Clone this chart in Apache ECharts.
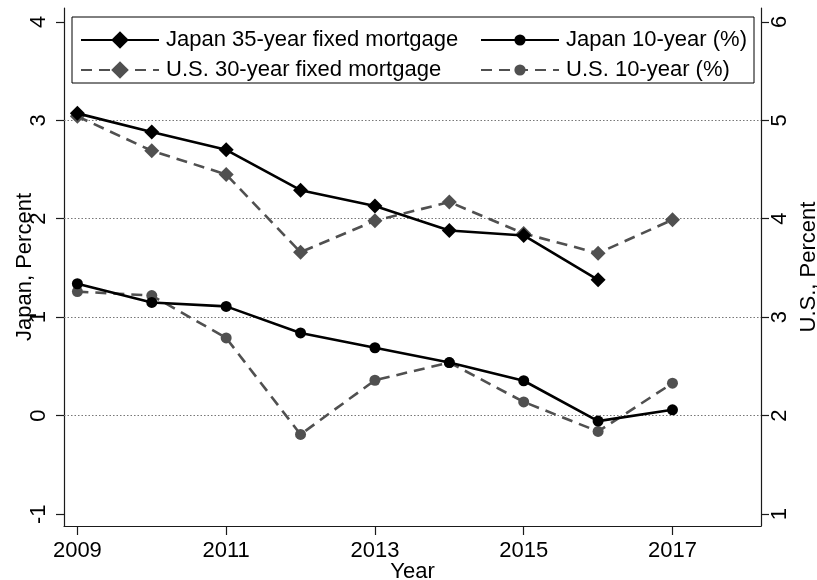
<!DOCTYPE html>
<html>
<head>
<meta charset="utf-8">
<script src="https://cdn.jsdelivr.net/npm/echarts@6/dist/echarts.min.js"></script>
<style>
  html, body { margin: 0; padding: 0; background: #fff; }
  #chart { width: 817px; height: 580px; }
</style>
</head>
<body>
<div id="chart"></div>
<script>
// Interest rates, 2009-2017
const years = [2009, 2010, 2011, 2012, 2013, 2014, 2015, 2016, 2017];
const japanMortgage35 = [3.07, 2.88, 2.70, 2.29, 2.13, 1.88, 1.83, 1.38, null];
const japan10y = [1.34, 1.15, 1.11, 0.84, 0.69, 0.54, 0.355, -0.055, 0.06];
const usMortgage30 = [5.04, 4.69, 4.45, 3.66, 3.98, 4.17, 3.85, 3.65, 3.99];
const us10y = [3.26, 3.22, 2.79, 1.81, 2.36, 2.54, 2.14, 1.84, 2.33];

const xTickYears = [2009, 2011, 2013, 2015, 2017];
const leftTicks = [-1, 0, 1, 2, 3, 4];
const rightTicks = [1, 2, 3, 4, 5, 6];
const gridValues = [0, 1, 2, 3];

const FONT = "'Liberation Sans', Arial, Helvetica, sans-serif";
const BLACK = '#000000';
const GRAY = '#505050';
const AXIS = '#1a1a1a';
const FS = 22;

const pairs = (vals) => years.map((y, i) => [y, vals[i]]);

const chart = echarts.init(document.getElementById('chart'), null, { renderer: 'canvas' });

const axisLine = { show: true, onZero: false, lineStyle: { color: AXIS, width: 1.2 } };
const tickStyle = { color: AXIS, width: 1.2 };
const nameStyle = { fontFamily: FONT, fontSize: FS, color: BLACK };
const labelStyle = { fontFamily: FONT, fontSize: FS, color: BLACK };

const legendCommon = {
  orient: 'vertical', itemWidth: 78, padding: 0,
  textStyle: { fontFamily: FONT, fontSize: FS, color: BLACK, padding: [0, 0, 0, 2], lineHeight: 22 },
  z: 10
};

chart.setOption({
  animation: false,
  backgroundColor: '#ffffff',
  textStyle: { fontFamily: FONT },
  grid: { left: 64, right: 56, top: 8, bottom: 54, containLabel: false, outerBoundsMode: 'none' },
  graphic: [{
    type: 'rect',
    shape: { x: 72, y: 17, width: 682, height: 66 },
    style: { fill: '#ffffff', stroke: '#000000', lineWidth: 1 },
    z: 5
  }],
  legend: [
    Object.assign({}, legendCommon, {
      data: ['Japan 35-year fixed mortgage', 'U.S. 30-year fixed mortgage'],
      left: 80, top: 29, itemHeight: 22, itemGap: 8
    }),
    Object.assign({}, legendCommon, {
      data: ['Japan 10-year (%)', 'U.S. 10-year (%)'],
      left: 480, top: 29, itemHeight: 14, itemGap: 8
    })
  ],
  xAxis: {
    type: 'value',
    min: 2008.82, max: 2018.19,
    name: 'Year', nameLocation: 'middle', nameGap: 35, nameMoveOverlap: false, nameTextStyle: nameStyle,
    axisLine: axisLine,
    splitLine: { show: false },
    axisTick: { show: true, length: 9, customValues: xTickYears, lineStyle: tickStyle },
    axisLabel: Object.assign({ customValues: xTickYears, margin: 14, formatter: v => String(v) }, labelStyle)
  },
  yAxis: [
    {
      type: 'value', position: 'left',
      min: -1.12, max: 4.14,
      name: 'Japan, Percent', nameLocation: 'middle', nameGap: 28, nameMoveOverlap: false, nameTextStyle: nameStyle,
      axisLine: axisLine,
      splitLine: { show: false },
      axisTick: { show: true, length: 8, customValues: leftTicks, lineStyle: tickStyle },
      axisLabel: Object.assign({ customValues: leftTicks, rotate: 90, margin: 14 }, labelStyle)
    },
    {
      type: 'value', position: 'right',
      min: 0.88, max: 6.14,
      name: 'U.S., Percent', nameLocation: 'middle', nameGap: 37, nameMoveOverlap: false, nameTextStyle: nameStyle,
      axisLine: axisLine,
      splitLine: { show: false },
      axisTick: { show: true, length: 8, customValues: rightTicks, lineStyle: tickStyle },
      axisLabel: Object.assign({ customValues: rightTicks, rotate: 90, margin: 8 }, labelStyle)
    }
  ],
  series: [
    {
      name: 'Japan 35-year fixed mortgage', type: 'line', yAxisIndex: 0,
      data: pairs(japanMortgage35),
      symbol: 'diamond', symbolSize: 15,
      lineStyle: { color: BLACK, width: 2.6 },
      itemStyle: { color: BLACK },
      z: 4,
      markLine: {
        silent: true, symbol: 'none', label: { show: false },
        lineStyle: { color: '#777777', type: [1.5, 2], width: 1.2 },
        data: gridValues.map(v => ({ yAxis: v })),
        z: 1
      }
    },
    {
      name: 'U.S. 30-year fixed mortgage', type: 'line', yAxisIndex: 1,
      data: pairs(usMortgage30),
      symbol: 'diamond', symbolSize: 15,
      lineStyle: { color: GRAY, width: 2.6, type: [11, 7] },
      itemStyle: { color: GRAY },
      z: 3
    },
    {
      name: 'Japan 10-year (%)', type: 'line', yAxisIndex: 0,
      data: pairs(japan10y),
      symbol: 'circle', symbolSize: 11,
      lineStyle: { color: BLACK, width: 2.6 },
      itemStyle: { color: BLACK },
      z: 4
    },
    {
      name: 'U.S. 10-year (%)', type: 'line', yAxisIndex: 1,
      data: pairs(us10y),
      symbol: 'circle', symbolSize: 11,
      lineStyle: { color: GRAY, width: 2.6, type: [11, 7] },
      itemStyle: { color: GRAY },
      z: 3
    }
  ]
});
</script>
</body>
</html>
